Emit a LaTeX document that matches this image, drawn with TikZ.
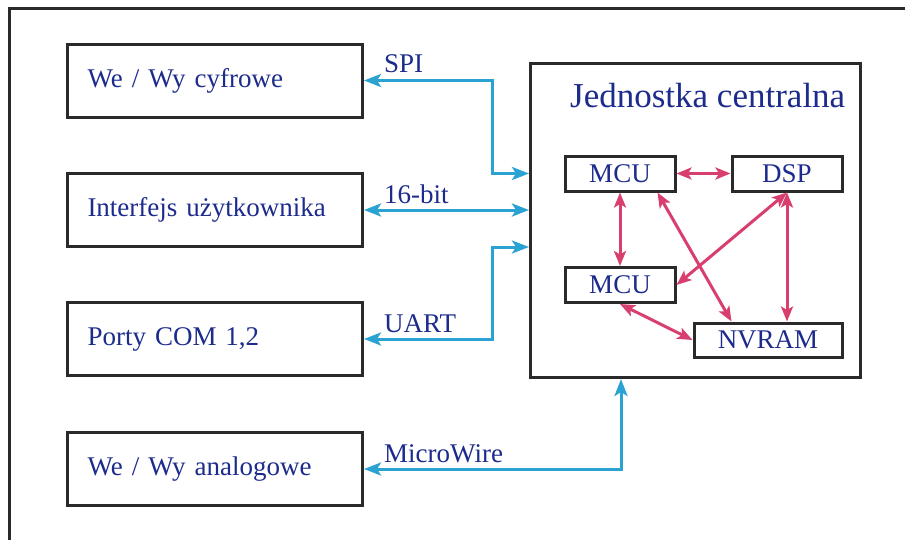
\documentclass[tikz,border=0pt]{standalone}
\usepackage{fontspec}
\setmainfont{Liberation Serif}
\usepackage{tikz}
\usetikzlibrary{positioning,arrows.meta,calc}
\definecolor{ink}{HTML}{1C2B8C}
\definecolor{busblue}{HTML}{2AA2D2}
\definecolor{linkred}{HTML}{D83E6E}
\definecolor{frame}{HTML}{2A2A2A}

\begin{document}
\begin{tikzpicture}[x=1pt,y=-1pt,
    unit/.style={draw=frame,line width=3pt,minimum width=295pt,minimum height=73pt,
                 text width=255pt,inner xsep=20pt,align=left,anchor=west,
                 text=ink,font=\fontsize{27pt}{32pt}\selectfont},
    chip/.style={draw=frame,line width=3pt,minimum height=35pt,inner sep=0pt,
                 text=ink,font=\fontsize{27pt}{32pt}\selectfont},
    tag/.style={anchor=base west,inner sep=0pt,text=ink,
                font=\fontsize{27pt}{32pt}\selectfont},
    bus/.style={<->,>={Stealth[length=17pt,width=13pt,inset=4pt]},
                line width=3pt,busblue},
    link/.style={<->,>={Stealth[length=15pt,width=12pt,inset=3.5pt]},
                 line width=3pt,linkred}]
  \useasboundingbox (0,0) rectangle (905,539);
  \clip (0,0) rectangle (905,539);
  \draw[frame,line width=3pt] (9,8) rectangle (960,600);

  % peripheral units
  \node[unit] (dio) at (66,80.5) {We / Wy cyfrowe};
  \node[unit] (ui) at (66,210) {Interfejs użytkownika};
  \node[unit] (com) at (66,339) {Porty COM 1,2};
  \node[unit] (aio) at (66,469) {We / Wy analogowe};

  % central unit
  \node[draw=frame,line width=3pt,minimum width=330pt,minimum height=314pt,anchor=north west]
    (cpu) at (529,62) {};
  \node[tag,font=\fontsize{35pt}{40pt}\selectfont] (title) at (570,107) {Jednostka centralna};
  \node[chip,minimum width=110pt] (mcuA) at (620,173.5) {MCU};
  \node[chip,minimum width=110pt] (dsp) at (787,173.5) {DSP};
  \node[chip,minimum width=110pt] (mcuB) at (620,285) {MCU};
  \node[chip,minimum width=148pt,minimum height=34pt] (nvram) at (768,340) {NVRAM};

  % bus connections
  \coordinate (spiin) at (cpu.west |- mcuA);
  \coordinate (uartin) at ($(cpu.west |- mcuB)+(0,-38)$);
  \coordinate (mwin) at ($(cpu.south west)+(92,0)$);
  \draw[bus] (dio.east) -| ([xshift=-37pt]spiin) -- (spiin);
  \draw[bus] (ui.east) -- (cpu.west |- ui.east);
  \draw[bus] (com.east) -| ([xshift=-37pt]uartin) -- (uartin);
  \draw[bus] (aio.east) -| (mwin);

  \node[tag] (spi) at ([xshift=20pt,yshift=8pt]dio.east) {SPI};
  \node[tag] (bit) at ([xshift=20pt,yshift=7pt]ui.east) {16-bit};
  \node[tag] (uart) at ([xshift=20pt,yshift=7pt]com.east) {UART};
  \node[tag] (mw) at ([xshift=20pt,yshift=7pt]aio.east) {MicroWire};

  % internal links
  \draw[link] (mcuA.east) -- (dsp.west);
  \draw[link] (mcuA.south) -- (mcuB.north);
  \draw[link] ([xshift=-19pt]mcuA.south east) -- ([xshift=39pt]nvram.north west);
  \draw[link] (dsp.south) -- (mcuB.east);
  \draw[link] (dsp.south) -- (dsp.south |- nvram.north);
  \draw[link] (mcuB.south) -- (nvram.west);
\end{tikzpicture}
\end{document}
